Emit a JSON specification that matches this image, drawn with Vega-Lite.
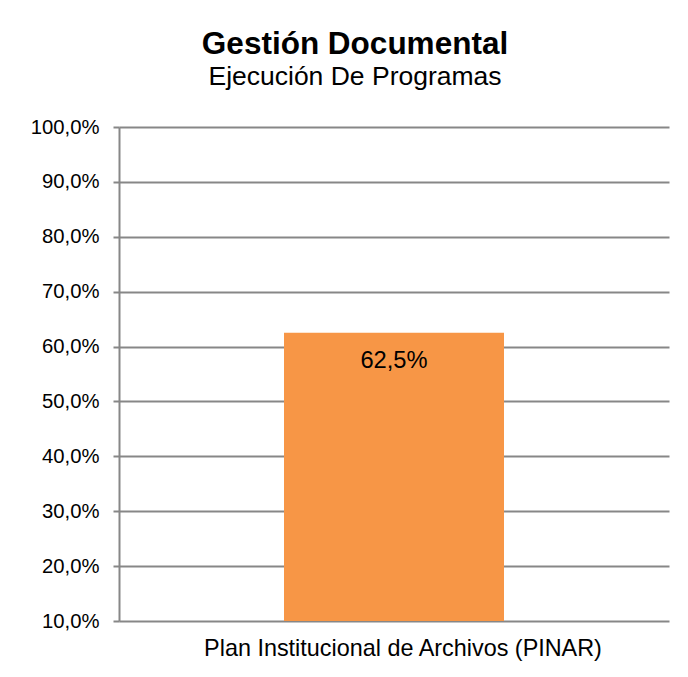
{
  "$schema": "https://vega.github.io/schema/vega-lite/v6.json",
  "width": 550,
  "height": 494,
  "autosize": "none",
  "padding": {"left": 119, "top": 127, "right": 19, "bottom": 56},
  "title": {
    "text": "Gestión Documental",
    "subtitle": "Ejecución De Programas",
    "font": "Liberation Sans",
    "fontSize": 31.5,
    "fontWeight": "bold",
    "color": "#000000",
    "subtitleFont": "Liberation Sans",
    "subtitleFontSize": 26.5,
    "subtitleColor": "#000000",
    "subtitlePadding": 3,
    "anchor": "middle",
    "dx": -39,
    "offset": 27
  },
  "data": {
    "values": [
      {"programa": "Plan Institucional de Archivos (PINAR)", "ejecucion": 0.625}
    ]
  },
  "config": {
    "view": {"stroke": null},
    "font": "Liberation Sans",
    "locale": {
      "number": {"decimal": ",", "thousands": ".", "grouping": [3], "currency": ["", " €"]}
    }
  },
  "layer": [
    {
      "mark": {"type": "bar", "color": "#F79646", "clip": true},
      "encoding": {
        "x": {
          "field": "programa",
          "type": "nominal",
          "scale": {"paddingInner": 0, "paddingOuter": 0.75},
          "axis": {
            "title": null,
            "domain": false,
            "ticks": false,
            "labelAngle": 0,
            "labelFont": "Liberation Sans",
            "labelFontSize": 23.4,
            "labelColor": "#000000",
            "labelPadding": 16,
            "labelOffset": 9,
            "labelLimit": 0
          }
        },
        "y": {
          "field": "ejecucion",
          "type": "quantitative",
          "scale": {"domain": [0.1, 1], "zero": false, "nice": false},
          "axis": {
            "title": null,
            "values": [0.1, 0.2, 0.3, 0.4, 0.5, 0.6, 0.7, 0.8, 0.9, 1.0],
            "format": ".1%",
            "labelFont": "Liberation Sans",
            "labelFontSize": 20.3,
            "labelColor": "#000000",
            "labelPadding": 14,
            "tickSize": 6,
            "tickColor": "#878787",
            "tickWidth": 2,
            "domainColor": "#878787",
            "domainWidth": 2,
            "grid": true,
            "gridColor": "#878787",
            "gridWidth": 2
          }
        }
      }
    },
    {
      "mark": {
        "type": "text",
        "baseline": "alphabetic",
        "dy": 35,
        "font": "Liberation Sans",
        "fontSize": 23.7,
        "color": "#000000"
      },
      "encoding": {
        "x": {"field": "programa", "type": "nominal"},
        "y": {"field": "ejecucion", "type": "quantitative"},
        "text": {"field": "ejecucion", "type": "quantitative", "format": ".1%"}
      }
    }
  ]
}
